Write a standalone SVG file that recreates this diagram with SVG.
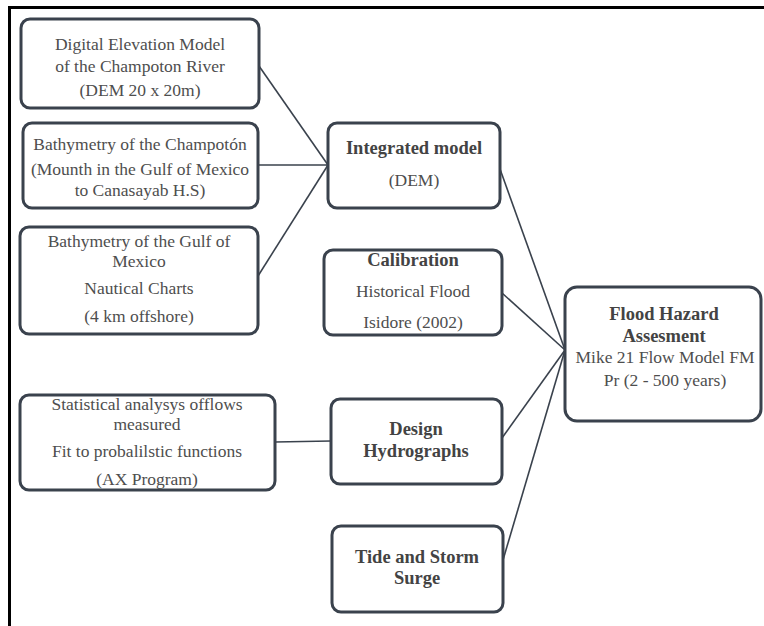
<svg xmlns="http://www.w3.org/2000/svg" width="764" height="626" viewBox="0 0 764 626">
<style>
.box{fill:#ffffff;stroke:#3a424d;stroke-width:3;}
.t{font-family:"Liberation Serif","Times New Roman",serif;font-size:17.5px;fill:#4e4e4e;text-anchor:middle;}
.b{font-family:"Liberation Serif","Times New Roman",serif;font-size:18.5px;font-weight:bold;fill:#434343;text-anchor:middle;}
.c{stroke:#3a424d;stroke-width:1.6;fill:none;}
</style>
<rect x="0" y="0" width="764" height="626" fill="#ffffff"/>
<path d="M9.5,626 V7.5 H764" fill="none" stroke="#000000" stroke-width="3"/>
<g id="connectors">
<line class="c" x1="259" y1="66" x2="328" y2="165"/>
<line class="c" x1="258" y1="165" x2="328" y2="165"/>
<line class="c" x1="258" y1="276" x2="328" y2="165"/>
<line class="c" x1="275" y1="442" x2="331" y2="441"/>
<line class="c" x1="500" y1="169" x2="565" y2="350"/>
<line class="c" x1="502" y1="293" x2="565" y2="350"/>
<line class="c" x1="502" y1="438" x2="565" y2="350"/>
<line class="c" x1="503" y1="560" x2="565" y2="350"/>
</g>
<g id="dem">
<rect class="box" x="21" y="19" width="238" height="89" rx="9"/>
<text class="t" x="140" y="50">Digital Elevation  Model</text>
<text class="t" x="140" y="72">of the Champoton River</text>
<text class="t" x="140" y="96">(DEM 20 x 20m)</text>
</g>
<g id="bathy-champoton">
<rect class="box" x="23" y="123" width="235" height="85" rx="9"/>
<text class="t" x="140" y="150">Bathymetry of the Champotón</text>
<text class="t" x="140" y="175">(Mounth in the Gulf of Mexico</text>
<text class="t" x="140" y="196">to Canasayab H.S)</text>
</g>
<g id="bathy-gulf">
<rect class="box" x="20" y="227" width="238" height="107" rx="9"/>
<text class="t" x="139" y="247">Bathymetry of the Gulf of</text>
<text class="t" x="139" y="267">Mexico</text>
<text class="t" x="139" y="294">Nautical  Charts</text>
<text class="t" x="139" y="322">(4 km offshore)</text>
</g>
<g id="statistical">
<rect class="box" x="20" y="395" width="255" height="95" rx="9"/>
<text class="t" x="147" y="410">Statistical analysys  offlows</text>
<text class="t" x="147" y="430">measured</text>
<text class="t" x="147" y="457">Fit to probalilstic functions</text>
<text class="t" x="147" y="485">(AX Program)</text>
</g>
<g id="integrated">
<rect class="box" x="328" y="123" width="172" height="85" rx="9"/>
<text class="b" x="414" y="154">Integrated model</text>
<text class="t" x="414" y="186">(DEM)</text>
</g>
<g id="calibration">
<rect class="box" x="324" y="250" width="178" height="85" rx="9"/>
<text class="b" x="413" y="266">Calibration</text>
<text class="t" x="413" y="297">Historical Flood</text>
<text class="t" x="413" y="328">Isidore (2002)</text>
</g>
<g id="design">
<rect class="box" x="331" y="399" width="171" height="85" rx="9"/>
<text class="b" x="416" y="435">Design</text>
<text class="b" x="416" y="457">Hydrographs</text>
</g>
<g id="tide">
<rect class="box" x="332" y="526" width="171" height="86" rx="9"/>
<text class="b" x="417" y="563">Tide and Storm</text>
<text class="b" x="417" y="584">Surge</text>
</g>
<g id="flood">
<rect class="box" x="565" y="287" width="196" height="134" rx="12"/>
<text class="b" x="664" y="320">Flood Hazard</text>
<text class="b" x="664" y="342">Assesment</text>
<text class="t" x="665" y="363">Mike 21 Flow  Model FM</text>
<text class="t" x="665" y="386">Pr (2 - 500 years)</text>
</g>
</svg>
